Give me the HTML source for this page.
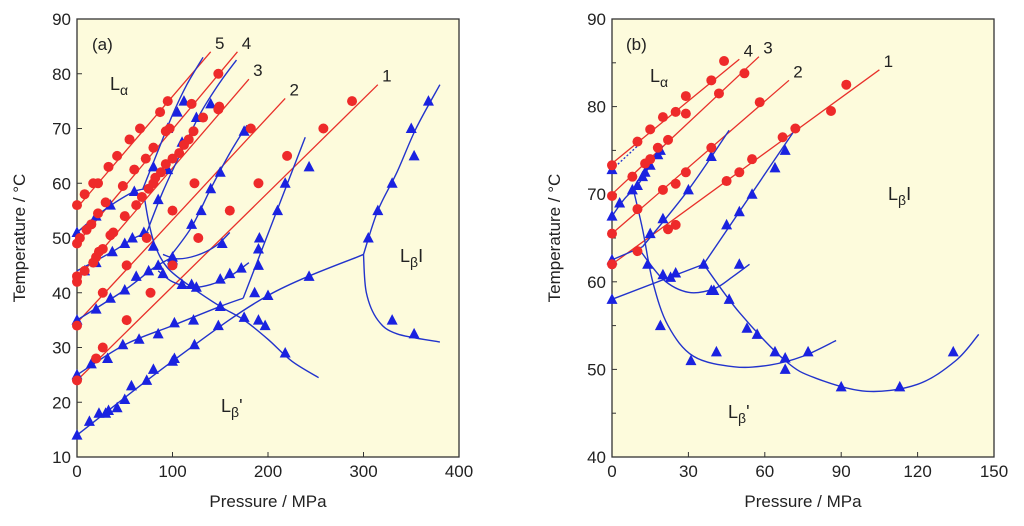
<!DOCTYPE html>
<html><head><meta charset="utf-8"><style>
body{margin:0;background:#fff;width:1024px;height:526px;overflow:hidden}
svg{display:block;font-family:"Liberation Sans",Arial,sans-serif}
</style></head><body>
<svg id="chart" width="1024" height="526"></svg>
<script>
// ---------- Panel (a) data ----------
const aXTicks=[0,100,200,300,400];
const aYTicks=[10,20,30,40,50,60,70,80,90];
const aRedLines=[
 {label:"1",from:[0,24],to:[315,78]},
 {label:"2",from:[0,34.5],to:[218,75.5]},
 {label:"3",from:[0,42.5],to:[180,79]},
 {label:"4",from:[0,49],to:[168,84]},
 {label:"5",from:[0,55.5],to:[140,84]}];
const aRedP=[0,20,27,52,77,100,127,160,190,220,258,288, 0,27,52,73,100,123,182, 0,0,8,17,20,23,27,35,38,50,62,68,75,80,82,88,93,100,107,112,117,122,132,148,149, 0,3,10,15,22,30,48,60,72,80,93,97,120,148, 0,8,17,22,33,42,55,66,87,95];
const aRedT=[24,28,30,35,40,45,50,55,60,65,70,75, 34,40,45,50,55,60,70, 42,43,44,45.5,46.5,47.5,48,50.5,51,54,56,57.5,59,60,61,62,63.5,64.5,65.5,67,68,69.5,72,73.5,74, 49,50,51.5,52.5,54.5,56.5,59.5,62.5,64.5,66.5,69.5,70,74.5,80, 56,58,60,60,63,65,68,70,73,75];
const aBlueCurves=[
 [[0,14],[100,27.5],[200,39.5],[300,47]],
 [[0,25],[50,30.5],[100,34],[150,37.5],[174,39]],
 [[174,39],[239,68.4]],
 [[70,58],[75,53],[82,48.5],[95,44.5],[120,41],[150,37.5],[175,35],[200,31.5],[225,27.5],[253,24.5]],
 [[0,35],[50,40.5],[80,44.5],[100,46.5]],
 [[85,44],[100,42],[120,41],[140,41.5],[160,43],[180,45.5]],
 [[0,44],[37,47.5],[60,50],[75,51]],
 [[90,47],[105,46.2],[125,46.8],[145,48.5],[160,51]],
 [[0,51],[20,54],[40,56.5],[60,58.5],[72,59]],
 [[97,46.5],[120,52],[140,59],[160,65.5],[178,70.6]],
 [[73,51],[90,58.5],[110,66],[130,73],[150,78.5],[167,82.5]],
 [[69,59],[85,66],[100,72.5],[115,78],[132,83]],
 [[300,47],[315,55],[335,62],[355,70],[380,78]],
 [[300,47],[303,40],[315,35],[335,32.5],[380,31]]];
const aBlueP=[0,13,23,30,33,42,50,57,73,80,100,102,123,148,175,190,197,218,200,243, 0,15,32,48,65,85,102,122,150, 186,190,190,191,210,218,243, 0,20,35,50,62,75,85,100,110,120,125,150,160,172, 8,20,37,50,58,70,80,90,100,152, 0,20,35,60, 120,130,140,150,175, 85,95,110,125,140, 80,95,105,112, 305,315,330,350,353,368,330,353];
const aBlueT=[14,16.5,18,18,18.5,19,20.5,23,24,26,27.5,28,30.5,34,35.5,35,34,29,39.5,43, 25,27,28,30.5,31.5,32.5,34.5,35,37.5, 40,45,48,50,55,60,63, 35,37,39,40.5,43,44,45,46.5,41.5,41.5,41,42.5,43.5,44.5, 44,45.5,47.5,49,50,51,48.5,43.5,46,49, 51,54,56,58.5, 52.5,55,59,62,69.5, 57,62.5,67.5,72,74.5, 63,70,73,75, 50,55,60,70,65,75,35,32.5];

// ---------- Panel (b) data ----------
const bXTicks=[0,30,60,90,120,150];
const bYTicks=[40,50,60,70,80,90];
const bRedLines=[
 {label:"1",from:[0,62],to:[105,84.2]},
 {label:"2",from:[0,65.5],to:[69.5,83]},
 {label:"3",from:[0,70],to:[57.7,85.7]},
 {label:"4",from:[0,73.5],to:[50,85.4]}];
const bRedP=[0,10,22,25,45,50,55,67,72,86,92, 0,10,20,25,29,39,58, 0,8,13,15,18,22,29,42,52, 0,10,15,20,25,29,39,44];
const bRedT=[62,63.5,66,66.5,71.5,72.5,74,76.5,77.5,79.5,82.5, 65.5,68.3,70.5,71.2,72.5,75.3,80.5, 69.8,72,73.5,74,75.3,76.2,79.2,81.5,83.8, 73.3,76,77.4,78.8,79.4,81.2,83,85.2];
const bBlueCurves=[
 [[0,58],[36,62]],
 [[36,62],[71,77]],
 [[36,62],[50,56.5],[68,51],[80,49],[100,47.5],[120,48.3],[135,51],[144,54]],
 [[8,71],[12,66],[16,60],[22,55],[32,51.5],[48,50.3],[62,50.5],[75,51.5],[88,53.3]],
 [[10,64],[20,60.3],[30,58.8],[40,59.2],[47,60.5],[54,62]],
 [[0,62.5],[12,64]],
 [[12,64],[30,70.5],[46,77.3]],
 [[0,67.5],[5,69.5],[10,71],[15,73.3],[20,75.5]]];
const bBlueP=[0,20,23,25,36, 45,50,55,64,68, 40,46,53,57,64,68,68,90,113,134, 8,14,19,31,41,77, 50,39, 0,15,20,30,39, 3,10,12,13,15,18,19, 0,0];
const bBlueT=[58,60.8,60.5,61,62, 66.5,68,70,73,75, 59,58,54.7,54,52,51.3,50,48,48,52, 70.5,62,55,51,52,52, 62,59, 62.5,65.5,67.2,70.5,74.3, 69,71,72,72.5,73.3,74.5,75, 67.5,72.8];

// ---------- drawing ----------
const svg=document.getElementById('chart');
const NS='http://www.w3.org/2000/svg';
function mk(tag,attrs,parent){const e=document.createElementNS(NS,tag);for(const k in attrs)e.setAttribute(k,attrs[k]);(parent||svg).appendChild(e);return e;}
function txt(x,y,s,size,anchor,parent){const t=mk('text',{x:x,y:y,'font-size':size,'text-anchor':anchor||'middle',fill:'#222'},parent);t.textContent=s;return t;}

function panel(id,L,R,T,B,xmin,xmax,ymin,ymax,xt,yt,yminor,redLines,rP,rT,blues,bP,bT,cfg){
 const g=mk('g',{});
 
 
 const X=v=>L+(v-xmin)/(xmax-xmin)*(R-L);
 const Y=v=>B-(v-ymin)/(ymax-ymin)*(B-T);
 const frame=mk('rect',{x:L,y:T,width:R-L,height:B-T,fill:'#fdfbdc',stroke:'#333','stroke-width':1.3},g);
 
 
 xt.forEach(v=>{mk('line',{x1:X(v),x2:X(v),y1:B,y2:B-5,stroke:'#333'},g);
   const t=txt(X(v),B+20,String(v),17,'middle',g);
   
   });
 yt.forEach(v=>{mk('line',{x1:L,x2:L+5,y1:Y(v),y2:Y(v),stroke:'#333'},g);
   const t=txt(L-6,Y(v)+6,String(v),17,'end',g);
   
   });
 if(yminor) for(let v=ymin+yminor;v<ymax;v+=yminor*2) mk('line',{x1:L,x2:L+4,y1:Y(v),y2:Y(v),stroke:'#333'},g);
 const xl=txt((L+R)/2,507,'Pressure / MPa',17,'middle',g);
 
 
 const yl=txt(0,0,'Temperature / °C',17,'middle',g);
 yl.setAttribute('transform','translate('+(L-52)+','+((T+B)/2)+') rotate(-90)');
 
 
 redLines.forEach(l=>{
   const ln=mk('line',{x1:X(l.from[0]),y1:Y(l.from[1]),x2:X(l.to[0]),y2:Y(l.to[1]),stroke:'#e8302a','stroke-width':1.3},g);
   
   
   const lb=txt(X(l.to[0])+9,Y(l.to[1])-3,l.label,17,'middle',g);
   
   
 });
 blues.forEach(c=>{
   let d='M'+X(c[0][0])+' '+Y(c[0][1]);
   if(c.length==2) d+=' L'+X(c[1][0])+' '+Y(c[1][1]);
   else { for(let i=0;i<c.length-1;i++){const p0=c[Math.max(0,i-1)],p1=c[i],p2=c[i+1],p3=c[Math.min(c.length-1,i+2)];
     const c1x=X(p1[0])+(X(p2[0])-X(p0[0]))/6,c1y=Y(p1[1])+(Y(p2[1])-Y(p0[1]))/6;
     const c2x=X(p2[0])-(X(p3[0])-X(p1[0]))/6,c2y=Y(p2[1])-(Y(p3[1])-Y(p1[1]))/6;
     d+=' C'+c1x+' '+c1y+' '+c2x+' '+c2y+' '+X(p2[0])+' '+Y(p2[1]);}}
   const p=mk('path',{d:d,fill:'none',stroke:'#2233cc','stroke-width':1.4},g);
   
   
 });
 if(cfg.dotted){const dl=mk('line',{x1:X(cfg.dotted[0]),y1:Y(cfg.dotted[1]),x2:X(cfg.dotted[2]),y2:Y(cfg.dotted[3]),stroke:'#2233cc','stroke-dasharray':'2 2','stroke-width':1.3},g);
   
   }
 bP.forEach((p,i)=>{const x=X(p),y=Y(bT[i]);
   const tr=mk('polygon',{points:(x-5.5)+','+(y+4.5)+' '+(x+5.5)+','+(y+4.5)+' '+x+','+(y-6),fill:'#1a22e0'},g);
   
   });
 rP.forEach((p,i)=>{const c=mk('circle',{cx:X(p),cy:Y(rT[i]),r:5,fill:'#ee2a2a'},g);
   
   });
 cfg.labels.forEach(lb=>{const t=mk('text',{x:lb.x,y:lb.y,'font-size':18,fill:'#222'},g);
   
   
   t.textContent='L';
   const s=mk('tspan',{'font-size':14,dy:5},t);s.textContent=lb.sub;
   if(lb.rest){const r=mk('tspan',{'font-size':18,dy:-5},t);r.textContent=lb.rest;}});
 const pl=txt(cfg.pl[0],cfg.pl[1],'('+id+')',17,'start',g);
 
 
}
panel('a',77,459,19,457,0,400,10,90,aXTicks,aYTicks,0,aRedLines,aRedP,aRedT,aBlueCurves,aBlueP,aBlueT,
 {labels:[{x:110,y:90,sub:'α'},{x:221,y:412,sub:'β',rest:"'"},{x:400,y:262,sub:'β',rest:'I'}],pl:[92,50]});
panel('b',612,994,19,457,0,150,40,90,bXTicks,bYTicks,5,bRedLines,bRedP,bRedT,bBlueCurves,bBlueP,bBlueT,
 {labels:[{x:650,y:82,sub:'α'},{x:728,y:418,sub:'β',rest:"'"},{x:888,y:200,sub:'β',rest:'I'}],pl:[626,50],dotted:[0,72.8,10,75.5]});
</script>
</body></html>
